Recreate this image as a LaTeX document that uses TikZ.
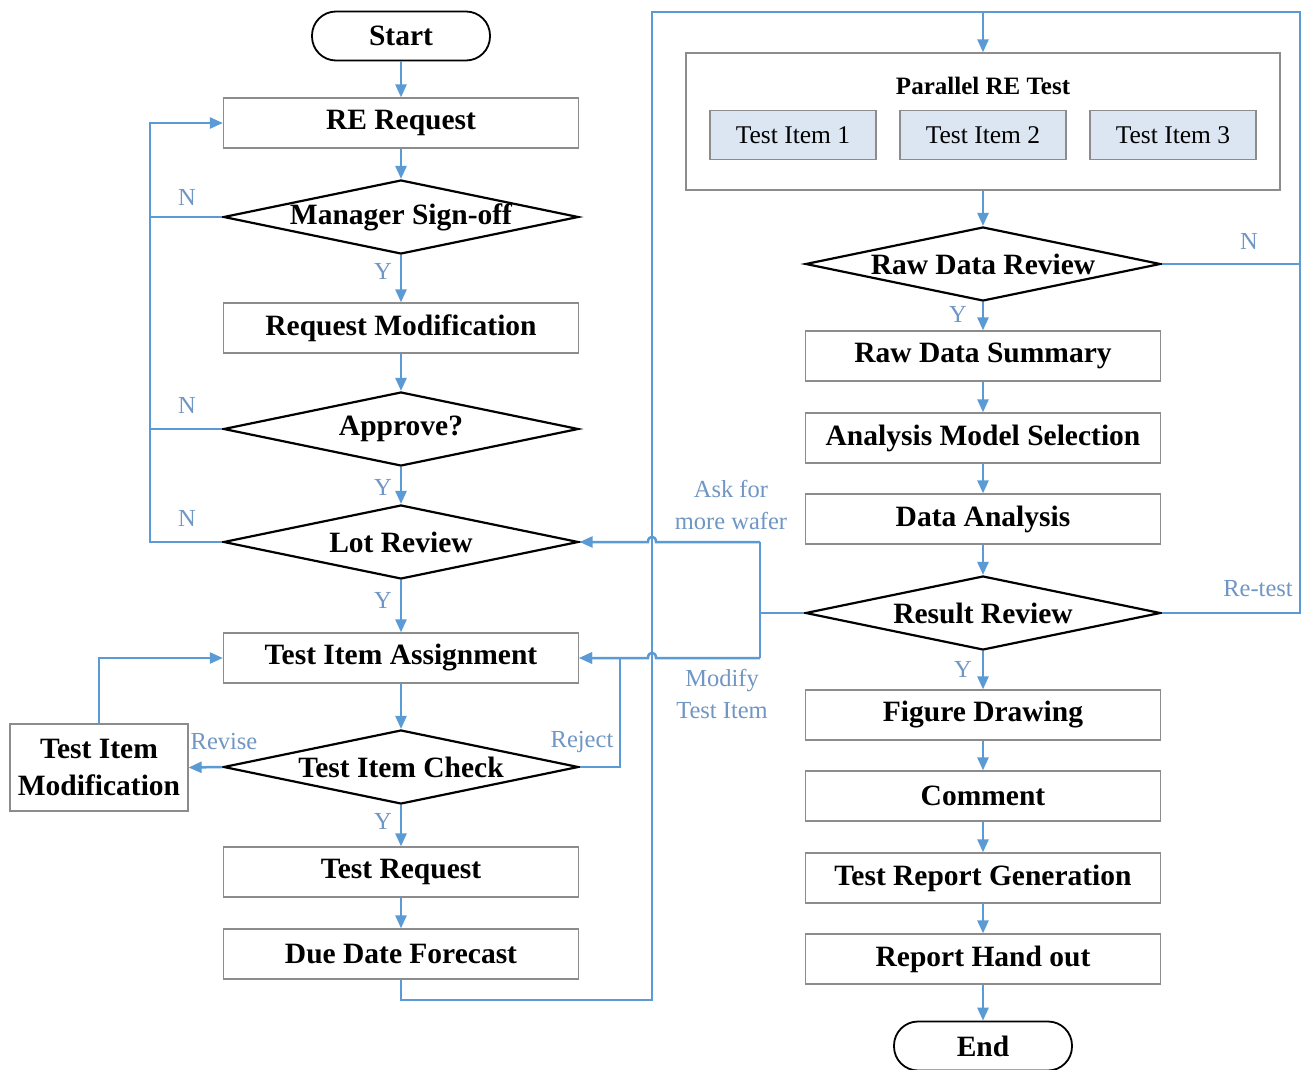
\documentclass[tikz,border=0pt]{standalone}
\usepackage{fontspec}
\setmainfont{Liberation Serif}
\usetikzlibrary{shapes.geometric,arrows.meta}
\definecolor{lineblue}{HTML}{5B9BD5}
\definecolor{labblue}{HTML}{7096C4}
\definecolor{boxgray}{HTML}{8C8C8C}
\definecolor{itemfill}{HTML}{DCE6F2}
\begin{document}
\begin{tikzpicture}[x=1pt,y=-1pt,
 bold/.style={font=\fontsize{29.5}{32}\selectfont\bfseries},
 proc/.style={draw=boxgray,line width=1.3pt,minimum width=355pt,minimum height=50pt,inner sep=0pt,bold},
 dec/.style={draw=black,line width=2.2pt,shape=diamond,aspect=4.8,minimum width=355pt,minimum height=74pt,inner sep=0pt,bold},
 term/.style={draw=black,line width=1.8pt,rounded corners=24pt,minimum width=178pt,minimum height=49pt,inner sep=0pt,bold},
 item/.style={draw=boxgray,line width=1.2pt,fill=itemfill,minimum width=166pt,minimum height=49pt,inner sep=0pt,font=\fontsize{25.5}{28}\selectfont},
 flow/.style={draw=lineblue,line width=2.5pt,-{Triangle[length=13pt,width=11pt]}},
 fline/.style={draw=lineblue,line width=2.5pt},
 lab/.style={text=labblue,font=\fontsize{24.5}{27}\selectfont,inner sep=0pt,align=center}
]
\useasboundingbox (0,0) rectangle (1301,1070);
\fill[white] (0,0) rectangle (1301,1070);

% left column
\node[term] (start) at (401,36) {Start};
\node[proc] (rereq) at (401,123) {RE Request};
\node[dec] (mgr) at (401,217) {Manager Sign-off};
\node[proc] (reqmod) at (401,328) {Request Modification};
\node[dec] (appr) at (401,429) {Approve?};
\node[dec] (lot) at (401,542) {Lot Review};
\node[proc] (tia) at (401,658) {Test Item Assignment};
\node[dec] (tic) at (401,767) {Test Item Check};
\node[proc,minimum width=178pt,minimum height=87pt,align=center,font=\fontsize{29.5}{37}\selectfont\bfseries] (tim) at (99,767.5) {Test Item\\Modification};
\node[proc] (treq) at (401,872) {Test Request};
\node[proc] (ddf) at (401,954) {Due Date Forecast};

% right column
\node[draw=boxgray,line width=1.3pt,minimum width=594pt,minimum height=137pt,inner sep=0pt] (par) at (983,121.5) {};
\node[font=\fontsize{25}{28}\selectfont\bfseries,inner sep=0pt] (partitle) at (983,86) {Parallel RE Test};
\node[item] (ti1) at (793,135) {Test Item 1};
\node[item] (ti2) at (983,135) {Test Item 2};
\node[item] (ti3) at (1173,135) {Test Item 3};
\node[dec] (rdr) at (983,264) {Raw Data Review};
\node[proc] (rds) at (983,356) {Raw Data Summary};
\node[proc] (ams) at (983,438) {Analysis Model Selection};
\node[proc] (da) at (983,519) {Data Analysis};
\node[dec] (rr) at (983,613) {Result Review};
\node[proc] (fd) at (983,715) {Figure Drawing};
\node[proc] (cm) at (983,796) {Comment};
\node[proc] (trg) at (983,878) {Test Report Generation};
\node[proc] (rho) at (983,959) {Report Hand out};
\node[term] (end) at (983,1046) {End};

% helper coordinates
\coordinate (lpTop) at (150,123);
\coordinate (rjTop) at (620,658);
\coordinate (c1) at (652,1000);
\coordinate (c2) at (652,12);
\coordinate (c3) at (1300,12);
\coordinate (rvTop) at (760,542);
\coordinate (rvBot) at (760,658);

% main flow left
\draw[flow] (start) -- (rereq);
\draw[flow] (rereq) -- (mgr);
\draw[flow] (mgr) -- (reqmod);
\draw[flow] (reqmod) -- (appr);
\draw[flow] (appr) -- (lot);
\draw[flow] (lot) -- (tia);
\draw[flow] (tia) -- (tic);
\draw[flow] (tic) -- (treq);
\draw[flow] (treq) -- (ddf);

% N loop
\draw[flow] (lot.west) -| (lpTop) -- (rereq.west);
\draw[fline] (mgr.west) -- (mgr.west -| lpTop);
\draw[fline] (appr.west) -- (appr.west -| lpTop);

% test item check loops
\draw[flow] (tic.west) -- (tim.east);
\draw[flow] (tim.north) |- (tia.west);
\draw[flow] (tic.east) -| (rjTop) -- (tia.east);

% to parallel test
\draw[flow] (ddf.south) |- (c1) -- (c2) -| (par.north);

% right flow
\draw[flow] (par) -- (rdr);
\draw[flow] (rdr) -- (rds);
\draw[flow] (rds) -- (ams);
\draw[flow] (ams) -- (da);
\draw[flow] (da) -- (rr);
\draw[flow] (rr) -- (fd);
\draw[flow] (fd) -- (cm);
\draw[flow] (cm) -- (trg);
\draw[flow] (trg) -- (rho);
\draw[flow] (rho) -- (end);

% retest loops
\draw[fline] (rdr.east) -| (c3) -- (c2);
\draw[fline] (rr.east) -| (c3);

% result review feedback
\draw[fline] (rr.west) -| (rvTop);
\draw[fline] (rvTop) -- (rvBot);
\draw[flow] (rvTop) -- (656,542) .. controls (656,535) and (648,535) .. (648,542) -- (lot.east);
\draw[flow] (rvBot) -- (656,658) .. controls (656,651) and (648,651) .. (648,658) -- (tia.east);

% labels
\node[lab] (n1) at (187,197) {N};
\node[lab] (n2) at (187,405) {N};
\node[lab] (n3) at (187,518) {N};
\node[lab] (y1) at (383,271) {Y};
\node[lab] (y2) at (383,487) {Y};
\node[lab] (y3) at (383,600) {Y};
\node[lab] (y4) at (383,821) {Y};
\node[lab] (rev) at (224,742) {Revise};
\node[lab] (rej) at (582,742) {Reject};
\node[lab,font=\fontsize{24.5}{32}\selectfont] (ask) at (731,505) {Ask for\\more wafer};
\node[lab,font=\fontsize{24.5}{32}\selectfont] (mti) at (722,694) {Modify\\Test Item};
\node[lab] (y5) at (958,314) {Y};
\node[lab] (y6) at (963,669) {Y};
\node[lab] (n4) at (1249,241) {N};
\node[lab] (rt) at (1258,589) {Re-test};
\end{tikzpicture}
\end{document}
